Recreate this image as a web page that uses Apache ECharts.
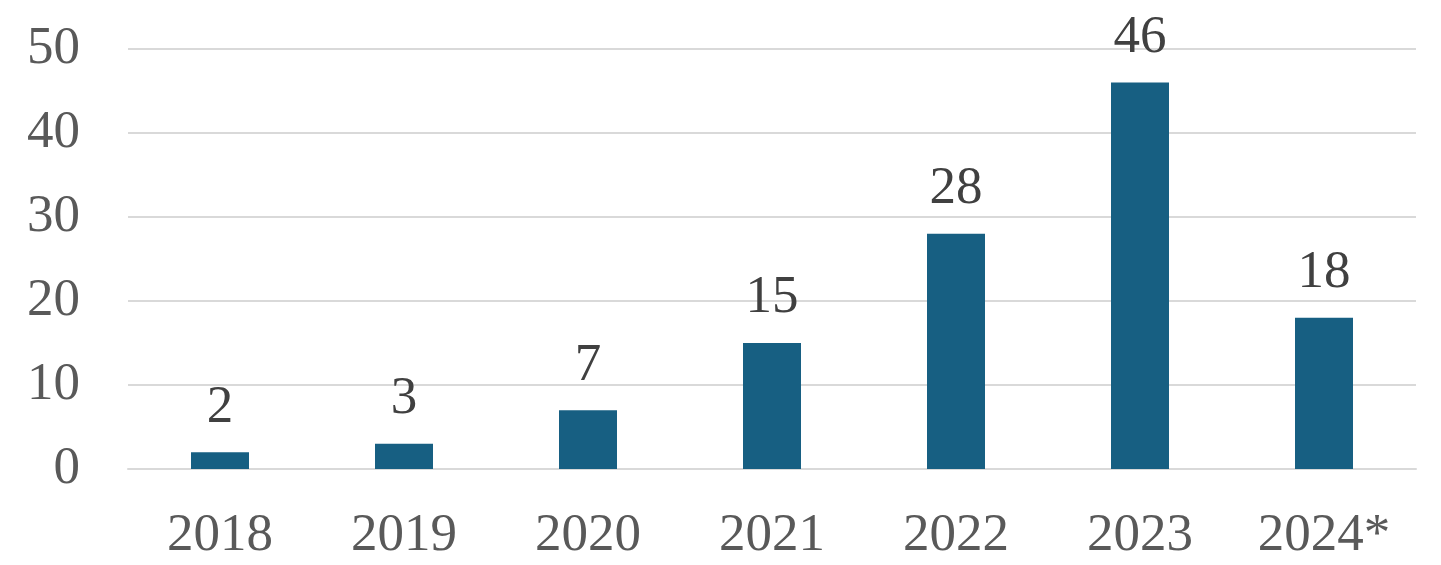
<!DOCTYPE html>
<html>
<head>
<meta charset="utf-8">
<script src="https://cdn.jsdelivr.net/npm/echarts@6/dist/echarts.min.js"></script>
<style>
html,body{margin:0;padding:0;background:#fff;}
#chart{width:1441px;height:565px;}
</style>
</head>
<body>
<div id="chart"></div>
<script>
var years = ['2018', '2019', '2020', '2021', '2022', '2023', '2024*'];
var counts = [2, 3, 7, 15, 28, 46, 18];
var yTicks = [0, 10, 20, 30, 40, 50];

var myChart = echarts.init(document.getElementById('chart'));
var option = {
  animation: false,
  grid: { left: 128, right: 25, top: 49, bottom: 96 },
  xAxis: {
    type: 'category',
    data: years,
    axisLine: { show: true, lineStyle: { color: '#d9d9d9', width: 2 } },
    axisTick: { show: false },
    axisLabel: { fontFamily: 'Liberation Serif', fontSize: 53, color: '#595959', margin: 41 }
  },
  yAxis: {
    type: 'value',
    min: yTicks[0],
    max: yTicks[yTicks.length - 1],
    interval: 10,
    axisLine: { show: false },
    axisTick: { show: false },
    splitLine: { lineStyle: { color: '#d9d9d9', width: 2 } },
    axisLabel: { fontFamily: 'Liberation Serif', fontSize: 53, color: '#595959', margin: 48 }
  },
  series: [{
    type: 'bar',
    data: counts,
    barWidth: 58,
    itemStyle: { color: '#175f82' },
    label: {
      show: true,
      position: 'top',
      distance: 18,
      fontFamily: 'Liberation Serif',
      fontSize: 53,
      color: '#404040'
    }
  }]
};
myChart.setOption(option);
window.addEventListener('resize', function () {
  myChart.resize();
});
</script>
</body>
</html>
